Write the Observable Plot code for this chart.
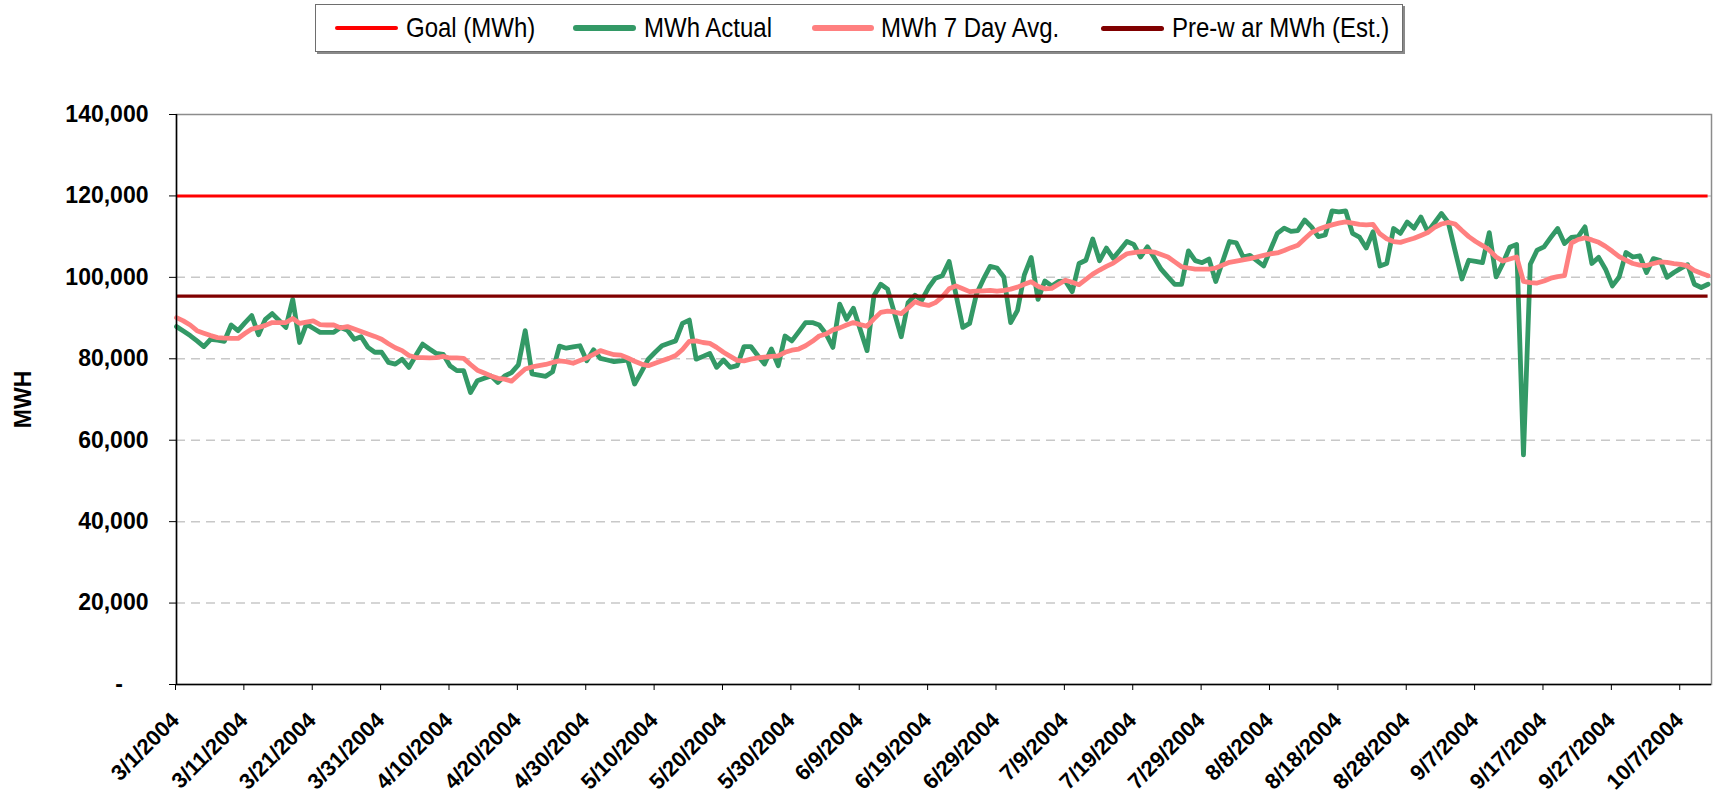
<!DOCTYPE html>
<html>
<head>
<meta charset="utf-8">
<script src="https://cdn.jsdelivr.net/npm/d3@7"></script>
<script src="https://cdn.jsdelivr.net/npm/@observablehq/plot@0.6"></script>
<style>
  html, body { margin: 0; padding: 0; background: #fff; }
  body { width: 1713px; height: 799px; overflow: hidden; font-family: "Liberation Sans", Arial, sans-serif; }
  #legend { position: relative; height: 56px; }
  #legend .box { position: absolute; left: 315px; top: 4px; width: 1086px; height: 46px; border: 1px solid #6e6e6e; box-shadow: 2px 2px 0 #8a8a8a; background: #fff; }
  #legend .item { position: absolute; top: 0; height: 46px; display: flex; align-items: center; }
  #legend .sw { display: inline-block; border-radius: 3px; }
  #legend .lab { font-size: 24px; color: #000; white-space: pre; display: inline-block; transform: scaleY(1.12); }
</style>
</head>
<body>
<div id="legend"></div>
<div id="chart"></div>
<script>
// ---- data ----
const startDate = "2004-03-01";          // first day of the daily series
const lastDate = "2004-10-11";           // last day of the daily series
const seriesNames = ["Goal (MWh)", "MWh Actual", "MWh 7 Day Avg.", "Pre-w ar MWh (Est.)"];
const seriesColors = ["#FF0000", "#339966", "#FF8080", "#800000"];
const goalMWh = 120000;
const preWarMWh = 95400;

// MWh Actual, one value per day from 3/1/2004
const actualMWh = [
  87900, 86800, 85700, 84400, 83000, 84800, 84600, 84300, 88300, 86900,
  88800, 90600, 85900, 89700, 91100, 89400, 87700, 94600, 84000, 88500,
  87500, 86500, 86500, 86500, 87700, 87000, 84800, 85400, 82800, 81600,
  81600, 79100, 78700, 79900, 77900, 80800, 83600, 82400, 81300, 81100,
  78300, 77100, 77100, 71700, 74600, 75200, 75800, 74200, 75800, 76600,
  78500, 86900, 76300, 76000, 75700, 76800, 83100, 82600, 82900, 83200,
  79500, 82200, 80100, 79700, 79300, 79500, 79700, 73800, 76800, 79900,
  81600, 83200, 83800, 84400, 88700, 89500, 79900, 80600, 81300, 77900,
  79700, 77900, 78300, 83000, 83000, 80800, 78700, 82400, 78300, 85600,
  84400, 86600, 88900, 88900, 88300, 86100, 82800, 93400, 89700, 92400,
  87200, 82000, 95500, 98300, 97100, 91200, 85400, 93800, 95600, 94400,
  97500, 99800, 100400, 103900, 95800, 87700, 88700, 95900, 99500, 102700,
  102300, 100100, 88900, 91900, 100600, 104900, 94600, 99100, 97900, 99000,
  99100, 96500, 103400, 104200, 109400, 104100, 107200, 104700, 106700, 108800,
  108100, 105000, 107500, 104800, 102000, 100100, 98300, 98300, 106500, 104100,
  103600, 104500, 99000, 103900, 108800, 108500, 105000, 105400, 104100, 102800,
  106800, 110800, 112100, 111300, 111500, 114100, 112400, 110000, 110400, 116300,
  116100, 116300, 110800, 109900, 107200, 111200, 102800, 103400, 112000, 110800,
  113600, 112100, 114800, 111200, 113400, 115700, 113500, 106500, 99600, 104200,
  103900, 103600, 111000, 100100, 103500, 107400, 108100, 56400, 103200, 106700,
  107500, 109800, 112000, 108300, 109800, 110000, 112400, 103400, 104900, 102000,
  97900, 100100, 106100, 105000, 105300, 101200, 104600, 104100, 100000, 101200,
  102200, 103100, 98300, 97500, 98300
];

// MWh 7 Day Avg., one value per day from 3/1/2004
const avg7MWh = [
  90100, 89300, 88300, 86900, 86300, 85700, 85200, 85100, 85000, 85000,
  86200, 87300, 87700, 88200, 88900, 88900, 88900, 89900, 88700, 89000,
  89300, 88400, 88300, 88300, 87600, 87900, 87300, 86700, 86100, 85500,
  84800, 83700, 82700, 82000, 80800, 80300, 80300, 80200, 80300, 80600,
  80200, 80200, 80100, 78600, 77200, 76500, 75800, 75200, 75000, 74500,
  76000, 77500, 78000, 78300, 78600, 79100, 79500, 79300, 78900, 79600,
  80200, 81100, 82000, 81500, 81000, 80900, 80200, 79400, 78700, 78300,
  78900, 79500, 80100, 80800, 82300, 84300, 84400, 84000, 83800, 82800,
  81600, 80600, 79600, 79500, 79900, 80200, 80400, 80600, 80700, 81600,
  82100, 82400, 83200, 84300, 85600, 86100, 87100, 87600, 88300, 88900,
  88400, 88000, 89800, 91400, 91700, 91500, 91100, 92500, 94000, 93400,
  93100, 93800, 95200, 97200, 97900, 97200, 96500, 96600, 96700, 96800,
  96600, 96800, 97100, 97600, 98300, 98900, 97800, 97200, 97300, 98300,
  99300, 98800, 98200, 99500, 100800, 101800, 102700, 103500, 104700, 105800,
  106100, 106300, 106400, 106200, 105600, 105000, 103800, 102600, 102300, 102000,
  102000, 102000, 102300, 103000, 103700, 104000, 104300, 104600, 105000, 105400,
  105800, 106000, 106600, 107300, 107900, 109500, 111000, 111800, 112400, 112900,
  113300, 113600, 113300, 113000, 112900, 113000, 110700, 109500, 108800, 108600,
  109100, 109600, 110300, 111000, 112300, 113100, 113500, 113100, 111500, 110000,
  108800, 107800, 106700, 105000, 104000, 104500, 105000, 99000, 98700, 98600,
  99100, 99800, 100200, 100400, 108400, 109300, 109700, 109200, 108600, 107600,
  106400, 105100, 104200, 103400, 103000, 102900, 103400, 103800, 103700, 103400,
  103200, 102800, 101700, 101000, 100400
];

const xTickLabels = ["3/1/2004", "3/11/2004", "3/21/2004", "3/31/2004", "4/10/2004", "4/20/2004",
  "4/30/2004", "5/10/2004", "5/20/2004", "5/30/2004", "6/9/2004", "6/19/2004", "6/29/2004",
  "7/9/2004", "7/19/2004", "7/29/2004", "8/8/2004", "8/18/2004", "8/28/2004", "9/7/2004",
  "9/17/2004", "9/27/2004", "10/7/2004"];
const yTickValues = [0, 20000, 40000, 60000, 80000, 100000, 120000, 140000];
const yTitle = "MWH";

// ---- build table ----
const parseISO = d3.utcParse("%Y-%m-%d");
const parseUS = d3.utcParse("%m/%d/%Y");
const fmtUS = d3.utcFormat("%-m/%-d/%Y");
const t0 = parseISO(startDate);
const t1 = parseISO(lastDate);
const rows = actualMWh.map((v, i) => ({date: d3.utcDay.offset(t0, i), actual: v, avg: avg7MWh[i]}));
const xTicks = xTickLabels.map(parseUS);
const xEnd = d3.utcHour.offset(t1, 12);

// ---- legend ----
const legendDefs = [
  {left: 19, w: 63, h: 4, gap: 8},
  {left: 257, w: 63, h: 6, gap: 8},
  {left: 496, w: 62, h: 6, gap: 7},
  {left: 785, w: 63, h: 5, gap: 8}
];
const box = document.createElement("div");
box.className = "box";
seriesNames.forEach((name, i) => {
  const it = document.createElement("div");
  it.className = "item";
  it.style.left = legendDefs[i].left + "px";
  const sw = document.createElement("span");
  sw.className = "sw";
  sw.style.width = legendDefs[i].w + "px";
  sw.style.height = legendDefs[i].h + "px";
  sw.style.background = seriesColors[i];
  const lab = document.createElement("span");
  lab.className = "lab";
  lab.style.marginLeft = legendDefs[i].gap + "px";
  lab.textContent = name;
  it.appendChild(sw);
  it.appendChild(lab);
  box.appendChild(it);
});
document.getElementById("legend").appendChild(box);

// ---- chart ----
const yFmt = d3.format(",");
const chart = Plot.plot({
  width: 1713,
  height: 743,
  marginTop: 58,
  marginBottom: 115,
  marginLeft: 176,
  marginRight: 2,
  style: {fontFamily: "'Liberation Sans', Arial, sans-serif", color: "#000", background: "#fff"},
  x: {type: "utc", domain: [t0, xEnd]},
  y: {domain: [0, 140000]},
  marks: [
    Plot.gridY(yTickValues.filter(v => v > 0 && v < 140000), {stroke: "#c8c8c8", strokeOpacity: 1, strokeWidth: 1.5, strokeDasharray: "9,6"}),
    Plot.frame({stroke: "#8c8c8c", strokeWidth: 1.5}),
    Plot.axisY({ticks: yTickValues, tickSize: 7, tickPadding: 21, tickFormat: v => v === 0 ? "-\u2007\u2007" : yFmt(v), fontSize: 23, fontWeight: "bold", stroke: "#000"}),
    Plot.axisX({ticks: xTicks, tickFormat: fmtUS, tickRotate: -45, tickSize: 6, tickPadding: 26, dx: -1, fontSize: 22, fontWeight: "bold"}),
    Plot.text([yTitle], {frameAnchor: "left", dx: -153, rotate: -90, textAnchor: "middle", lineAnchor: "middle", fontSize: 23, fontWeight: "bold"}),
    Plot.ruleY([goalMWh], {x1: t0, x2: t1, stroke: seriesColors[0], strokeWidth: 3}),
    Plot.lineY(rows, {x: "date", y: "actual", stroke: seriesColors[1], strokeWidth: 4.8, strokeLinejoin: "round", strokeLinecap: "round"}),
    Plot.lineY(rows, {x: "date", y: "avg", stroke: seriesColors[2], strokeWidth: 4.8, strokeLinejoin: "round", strokeLinecap: "round"}),
    Plot.ruleY([preWarMWh], {x1: t0, x2: t1, stroke: seriesColors[3], strokeWidth: 3.3}),
    Plot.ruleX([t0], {stroke: "#000", strokeWidth: 1.5}),
    Plot.ruleY([0], {stroke: "#000", strokeWidth: 1.5})
  ]
});
document.getElementById("chart").appendChild(chart);
</script>
</body>
</html>
